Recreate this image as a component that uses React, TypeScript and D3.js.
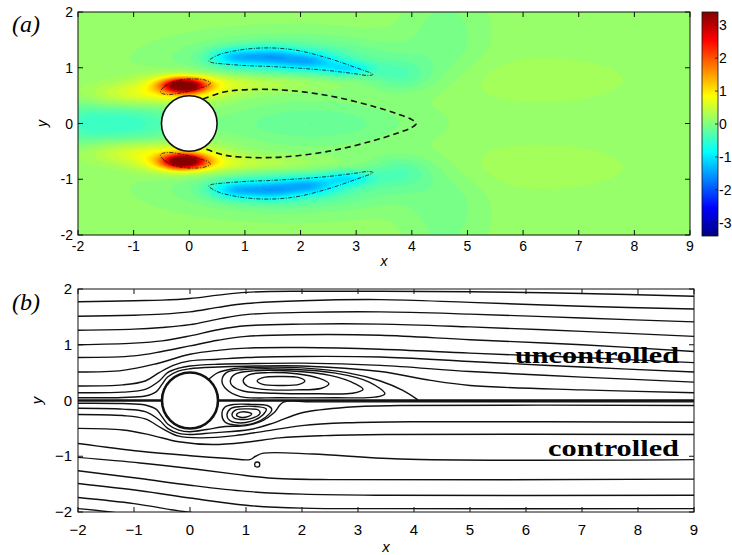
import React, { useMemo } from 'react'
import * as d3 from 'd3'

// axis ticks
const xTicks = [-2, -1, 0, 1, 2, 3, 4, 5, 6, 7, 8, 9]
const yTicks = [-2, -1, 0, 1, 2]
const cbarTicks = [-3, -2, -1, 0, 1, 2, 3]
const cbarRange = [-3.4, 3.4]

// jet colormap
const jetPos = [0, 0.125, 0.375, 0.625, 0.875, 1]
const jetColors = ['#000080', '#0000ff', '#00ffff', '#ffff00', '#ff0000', '#800000']

// field of panel (a): background level + blobs [x, y, sx, sy, amplitude]
// blobs with y != 0 are mirrored about y = 0
const fieldBase = 0.15
const fieldBlobs = [
  [-0.1, 0.68, 0.26, 0.085, 3.2],
  [-0.1, 0.64, 0.55, 0.17, 0.9],
  [-1.1, 0.5, 0.6, 0.15, 0.45],
  [1.2, 0.73, 1.0, 0.12, 0.45],
  [0.8, 1.19, 0.3, 0.11, -0.85],
  [1.45, 1.2, 0.35, 0.12, -0.95],
  [2.15, 1.12, 0.35, 0.11, -0.9],
  [2.85, 0.98, 0.3, 0.09, -0.75],
  [1.8, 1.12, 1.3, 0.3, -0.6],
  [3.8, 0.85, 0.4, 0.2, -0.35],
  [2.2, 0, 1.2, 0.28, -0.35],
  [-1.1, 0, 0.7, 0.3, -0.6],
  [-2, 0, 0.4, 0.3, -0.3],
  [6.2, 0.78, 1.2, 0.3, 0.12],
  [4.6, 1.6, 0.5, 0.6, -0.2],
]

// contour lines of panel (a), upper half (lower is mirrored)
const redContour = [
  [-0.52, 0.56], [-0.45, 0.66], [-0.3, 0.74], [-0.1, 0.79], [0.1, 0.8], [0.28, 0.78],
  [0.38, 0.73], [0.33, 0.68], [0.2, 0.64], [0.0, 0.58], [-0.2, 0.54], [-0.4, 0.52],
]
const blueContour = [
  [0.35, 1.12], [0.5, 1.22], [0.8, 1.3], [1.2, 1.35], [1.6, 1.35], [2.0, 1.3], [2.5, 1.17],
  [3.0, 1.0], [3.3, 0.88], [3.22, 0.86], [3.0, 0.89], [2.5, 0.95], [2.0, 0.99], [1.5, 1.02],
  [1.0, 1.04], [0.6, 1.07], [0.42, 1.09],
]
const bubbleDashed = [
  [0.25, 0.44], [0.6, 0.56], [0.9, 0.6], [1.5, 0.61], [2.1, 0.56], [2.7, 0.46],
  [3.3, 0.31], [3.75, 0.17], [4.0, 0.07], [4.08, 0],
]

// panel (b) streamlines, uncontrolled half (y > 0)
const upperLines = [
  [[-2, 1.77], [-1, 1.79], [-0.5, 1.8], [0, 1.83], [0.5, 1.89], [1, 1.94], [2, 1.96], [3.4, 1.96], [5, 1.95], [7, 1.92], [9, 1.87]],
  [[-2, 1.51], [-1, 1.53], [-0.5, 1.55], [0, 1.59], [0.5, 1.67], [1, 1.74], [2, 1.79], [3.4, 1.81], [5, 1.76], [7, 1.69], [9, 1.64]],
  [[-2, 1.26], [-1, 1.28], [-0.5, 1.31], [0, 1.36], [0.5, 1.46], [1, 1.54], [2, 1.58], [3.4, 1.59], [5, 1.55], [7, 1.48], [9, 1.41]],
  [[-2, 1.0], [-1, 1.03], [-0.5, 1.07], [0, 1.16], [0.5, 1.27], [1, 1.34], [2, 1.37], [3.4, 1.37], [5, 1.32], [7, 1.24], [9, 1.15]],
  [[-2, 0.77], [-1, 0.8], [-0.5, 0.88], [0, 0.98], [0.5, 1.08], [1, 1.15], [2, 1.18], [3.4, 1.17], [5, 1.09], [7, 1.0], [9, 0.88]],
  [[-2, 0.51], [-1.2, 0.54], [-0.6, 0.66], [0, 0.83], [0.5, 0.9], [1, 0.94], [2, 0.95], [3.4, 0.92], [5, 0.85], [7, 0.77], [9, 0.68]],
  [[-2, 0.26], [-1.2, 0.28], [-0.8, 0.35], [-0.55, 0.5], [-0.3, 0.63], [0, 0.71], [0.5, 0.74], [1, 0.77], [2, 0.79], [3.4, 0.78], [5, 0.7], [7, 0.6], [9, 0.51]],
  [[-2, 0.14], [-1.2, 0.15], [-0.8, 0.2], [-0.55, 0.35], [-0.4, 0.5], [-0.2, 0.58], [0, 0.62], [0.5, 0.65], [1, 0.66], [2, 0.67], [3.4, 0.63], [5, 0.52], [7, 0.42], [9, 0.33]],
  [[-2, 0.05], [-1.2, 0.055], [-0.8, 0.08], [-0.6, 0.16], [-0.5, 0.29], [-0.4, 0.42], [-0.2, 0.53], [0, 0.57], [0.5, 0.6], [1, 0.615], [2, 0.62], [3.4, 0.52], [4.3, 0.36], [5, 0.27], [7, 0.19], [9, 0.14]],
]
const upperSeparatrix = [[0.33, 0.375], [0.5, 0.5], [0.8, 0.575], [1.2, 0.595], [2, 0.585], [2.8, 0.5], [3.4, 0.35], [3.8, 0.18], [4.07, 0.01]]
const upperLoops = [
  [[1.2, 0.35], [1.3, 0.41], [1.62, 0.43], [1.95, 0.41], [2.05, 0.35], [1.95, 0.29], [1.62, 0.27], [1.3, 0.29]],
  [[0.95, 0.36], [1.05, 0.46], [1.4, 0.5], [1.9, 0.48], [2.3, 0.4], [2.48, 0.3], [2.35, 0.22], [1.9, 0.19], [1.3, 0.2], [1.02, 0.26]],
  [[0.72, 0.35], [0.8, 0.47], [1.1, 0.53], [1.8, 0.53], [2.5, 0.45], [2.95, 0.3], [3.09, 0.2], [2.9, 0.13], [2.3, 0.12], [1.5, 0.13], [0.95, 0.17], [0.76, 0.26]],
  [[0.57, 0.35], [0.65, 0.5], [0.95, 0.555], [1.8, 0.56], [2.6, 0.49], [3.2, 0.33], [3.48, 0.12], [3.3, 0.06], [2.6, 0.05], [1.6, 0.05], [0.9, 0.07], [0.65, 0.2]],
]

// panel (b) streamlines, controlled half (y < 0)
const lowerLines = [
  [[-2, -0.05], [-1.2, -0.055], [-0.8, -0.08], [-0.6, -0.16], [-0.5, -0.29], [-0.4, -0.42], [-0.2, -0.53], [0, -0.56], [0.3, -0.52], [0.6, -0.47], [1.0, -0.45], [1.3, -0.36], [1.5, -0.22], [1.67, -0.03], [2.2, -0.025], [9, -0.025]],
  [[-2, -0.14], [-1.2, -0.155], [-0.8, -0.2], [-0.55, -0.35], [-0.4, -0.5], [-0.2, -0.59], [0, -0.61], [0.4, -0.58], [1.07, -0.52], [1.5, -0.4], [2, -0.22], [2.8, -0.12], [3.75, -0.09], [9, -0.09]],
  [[-2, -0.25], [-1.2, -0.27], [-0.8, -0.33], [-0.5, -0.5], [-0.2, -0.64], [0.2, -0.67], [0.8, -0.63], [1.4, -0.54], [2, -0.45], [2.8, -0.4], [4, -0.38], [9, -0.39]],
  [[-2, -0.5], [-1.2, -0.53], [-0.7, -0.62], [-0.2, -0.74], [0.4, -0.79], [1, -0.75], [1.6, -0.67], [2.4, -0.63], [3.5, -0.61], [9, -0.61]],
  [[-2, -0.77], [-0.89, -0.91], [0, -0.99], [0.7, -1.04], [1.07, -1.06], [1.17, -1.0], [1.31, -0.945], [2.2, -0.96], [3.75, -1.05], [9, -1.06]],
  [[-2, -1.02], [-0.89, -1.12], [0, -1.22], [0.8, -1.32], [1.4, -1.39], [2.5, -1.42], [9, -1.41]],
  [[-2, -1.26], [-0.89, -1.4], [0, -1.52], [1, -1.63], [2, -1.68], [3.5, -1.7], [9, -1.7]],
  [[-2, -1.49], [-0.89, -1.62], [0, -1.75], [1, -1.88], [2, -1.93], [3.5, -1.94], [9, -1.94]],
  [[-2, -1.74], [-1, -1.85], [-0.2, -1.98], [0.2, -2.03]],
  [[-2, -1.94], [-1.5, -1.99], [-1.2, -2.03]],
]
const lowerLoops = [
  [[0.57, -0.25], [0.62, -0.12], [0.8, -0.07], [1.1, -0.07], [1.38, -0.09], [1.46, -0.16], [1.35, -0.3], [1.1, -0.42], [0.8, -0.44], [0.62, -0.38]],
  [[0.66, -0.26], [0.72, -0.15], [0.9, -0.11], [1.2, -0.11], [1.36, -0.15], [1.3, -0.26], [1.1, -0.37], [0.85, -0.4], [0.7, -0.35]],
  [[0.75, -0.25], [0.82, -0.17], [1.0, -0.15], [1.22, -0.17], [1.25, -0.23], [1.1, -0.32], [0.9, -0.34], [0.78, -0.31]],
  [[0.83, -0.26], [0.9, -0.21], [1.03, -0.21], [1.1, -0.24], [1.03, -0.29], [0.9, -0.3]],
]
const actuator = [1.2, -1.15]
const centerSegments = [[-2, -0.5], [0.5, 9]]

const mirror = (pts: number[][]) => pts.map(([x, y]) => [x, -y])

const sans = '"Liberation Sans", Arial, Helvetica, sans-serif'
const serif = '"Liberation Serif", "Times New Roman", serif'

function Frame({ x, y, minus, fs, xLabY, yLabX }: any) {
  const [x0, x1] = x.range()
  const [y0, y1] = y.range()
  const fmt = (v: number) => (v < 0 ? (minus ? '\u2212' : '-') + Math.abs(v) : String(v))
  return (
    <g>
      <rect x={x0} y={y1} width={x1 - x0} height={y0 - y1} fill="none" stroke="#111" strokeWidth={1} />
      {xTicks.map(t => (
        <g key={'x' + t}>
          <line x1={x(t)} x2={x(t)} y1={y0} y2={y0 - 5} stroke="#111" />
          <line x1={x(t)} x2={x(t)} y1={y1} y2={y1 + 5} stroke="#111" />
          <text x={x(t)} y={xLabY} textAnchor="middle" fontSize={fs} fontFamily={sans}>{fmt(t)}</text>
        </g>
      ))}
      {yTicks.map(t => (
        <g key={'y' + t}>
          <line x1={x0} x2={x0 + 5} y1={y(t)} y2={y(t)} stroke="#111" />
          <line x1={x1} x2={x1 - 5} y1={y(t)} y2={y(t)} stroke="#111" />
          <text x={yLabX} y={y(t) + 5} textAnchor="end" fontSize={fs} fontFamily={sans}>{fmt(t)}</text>
        </g>
      ))}
    </g>
  )
}

export default function App() {
  const xA = d3.scaleLinear().domain([-2, 9]).range([78, 690])
  const yA = d3.scaleLinear().domain([-2, 2]).range([235, 12])
  const xB = d3.scaleLinear().domain([-2, 9]).range([78, 694])
  const yB = d3.scaleLinear().domain([-2, 2]).range([512, 289])
  const cbY = d3.scaleLinear().domain(cbarRange).range([236, 12])
  const span = cbarRange[1] - cbarRange[0]
  const jet = d3.scaleLinear<string>()
    .domain(jetPos.map(t => cbarRange[0] + t * span))
    .range(jetColors)
    .clamp(true)

  const bands = useMemo(() => {
    const W = 275, H = 100
    const blobs = fieldBlobs.flatMap(b => (b[1] === 0 ? [b] : [b, [b[0], -b[1], b[2], b[3], b[4]]]))
    const vals = new Float64Array(W * H)
    for (let j = 0; j < H; j++) {
      const yy = 2 - ((j + 0.5) * 4) / H
      for (let i = 0; i < W; i++) {
        const xx = -2 + ((i + 0.5) * 11) / W
        let v = fieldBase
        for (const [cx, cy, sx, sy, a] of blobs) {
          const dx = (xx - cx) / sx, dy = (yy - cy) / sy
          v += a * Math.exp(-0.5 * (dx * dx + dy * dy))
        }
        vals[j * W + i] = v
      }
    }
    const thr = d3.range(cbarRange[0], cbarRange[1], 0.1)
    const contours = d3.contours().size([W, H]).thresholds(thr)(Array.from(vals))
    const cw = (xA(9) - xA(-2)) / W, ch = (yA(-2) - yA(2)) / H
    const ox = xA(-2), oy = yA(2)
    const proj = d3.geoTransform({
      point(px: number, py: number) { (this as any).stream.point(ox + px * cw, oy + py * ch) },
    })
    const path = d3.geoPath(proj as any)
    return contours.map(c => ({ d: path(c as any) || '', fill: jet(c.value + 0.05) }))
  }, [])

  const lineA = d3.line<number[]>().x(d => xA(d[0])).y(d => yA(d[1])).curve(d3.curveCatmullRom.alpha(0.5))
  const loopA = d3.line<number[]>().x(d => xA(d[0])).y(d => yA(d[1])).curve(d3.curveCatmullRomClosed.alpha(0.5))
  const lineB = d3.line<number[]>().x(d => xB(d[0])).y(d => yB(d[1])).curve(d3.curveCatmullRom.alpha(0.5))
  const loopB = d3.line<number[]>().x(d => xB(d[0])).y(d => yB(d[1])).curve(d3.curveCatmullRomClosed.alpha(0.5))

  const dashedFull = bubbleDashed.concat(mirror(bubbleDashed).reverse().slice(1))
  const contoursA = [redContour, mirror(redContour), blueContour, mirror(blueContour)]

  return (
    <svg width={732} height={555} style={{ position: 'absolute', left: 0, top: 0, background: '#fff' }}>
      <defs>
        <clipPath id="clipA"><rect x={xA(-2)} y={yA(2)} width={xA(9) - xA(-2)} height={yA(-2) - yA(2)} /></clipPath>
        <clipPath id="clipB"><rect x={xB(-2)} y={yB(2)} width={xB(9) - xB(-2)} height={yB(-2) - yB(2)} /></clipPath>
        <linearGradient id="jetGrad" x1="0" y1="1" x2="0" y2="0">
          {jetPos.map((p, i) => <stop key={i} offset={p} stopColor={jetColors[i]} />)}
        </linearGradient>
      </defs>

      {/* panel (a) */}
      <g clipPath="url(#clipA)">
        {bands.map((b, i) => <path key={i} d={b.d} fill={b.fill} stroke={b.fill} strokeWidth={0.3} />)}
        {contoursA.map((c, i) => (
          <path key={i} d={loopA(c) || ''} fill="none" stroke="#111" strokeWidth={0.8} strokeDasharray="4,1.5,1,1.5" />
        ))}
        <path d={lineA(dashedFull) || ''} fill="none" stroke="#111" strokeWidth={1.6} strokeDasharray="6,4" />
        <circle cx={xA(0)} cy={yA(0)} r={xA(0.5) - xA(0)} fill="#fff" stroke="#111" strokeWidth={1.6} />
      </g>
      <Frame x={xA} y={yA} minus={false} fs={14} xLabY={251} yLabX={73} />
      <text x={xA(3.5)} y={266} textAnchor="middle" fontSize={14} fontStyle="italic" fontFamily={sans}>x</text>
      <text transform={`translate(47,${yA(0)}) rotate(-90)`} textAnchor="middle" fontSize={14} fontStyle="italic" fontFamily={sans}>y</text>
      <text x={12} y={32} fontSize={24} fontStyle="italic" fontFamily={serif}>(a)</text>

      {/* colorbar */}
      <rect x={702} y={cbY(cbarRange[1])} width={16} height={cbY(cbarRange[0]) - cbY(cbarRange[1])} fill="url(#jetGrad)" stroke="#111" strokeWidth={0.8} />
      {cbarTicks.map(t => (
        <g key={t}>
          <line x1={715} x2={718} y1={cbY(t)} y2={cbY(t)} stroke="#111" strokeWidth={0.8} />
          <text x={719} y={cbY(t) + 5} fontSize={14} fontFamily={sans}>{t}</text>
        </g>
      ))}

      {/* panel (b) */}
      <g clipPath="url(#clipB)" fill="none" stroke="#111">
        {upperLines.map((l, i) => <path key={'u' + i} d={lineB(l) || ''} strokeWidth={1.4} />)}
        <path d={lineB(upperSeparatrix) || ''} strokeWidth={1.4} />
        {upperLoops.map((l, i) => <path key={'ul' + i} d={loopB(l) || ''} strokeWidth={1.4} />)}
        {lowerLines.map((l, i) => <path key={'d' + i} d={lineB(l) || ''} strokeWidth={1.4} />)}
        {lowerLoops.map((l, i) => <path key={'dl' + i} d={loopB(l) || ''} strokeWidth={1.4} />)}
        {centerSegments.map((s, i) => (
          <line key={'c' + i} x1={xB(s[0])} x2={xB(s[1])} y1={yB(0)} y2={yB(0)} strokeWidth={2.6} />
        ))}
        <circle cx={xB(actuator[0])} cy={yB(actuator[1])} r={2.6} strokeWidth={1.3} fill="#fff" />
        <circle cx={xB(0)} cy={yB(0)} r={xB(0.5) - xB(0)} fill="#fff" strokeWidth={2.6} />
      </g>
      <Frame x={xB} y={yB} minus={true} fs={15} xLabY={535} yLabX={72} />
      <text x={xB(3.5)} y={552} textAnchor="middle" fontSize={15} fontStyle="italic" fontFamily={sans}>x</text>
      <text transform={`translate(42,${yB(0)}) rotate(-90)`} textAnchor="middle" fontSize={15} fontStyle="italic" fontFamily={sans}>y</text>
      <text x={12} y={310} fontSize={24} fontStyle="italic" fontFamily={serif}>(b)</text>
      <text x={515} y={363} fontSize={23} fontWeight="bold" fontFamily={serif} textLength={164} lengthAdjust="spacingAndGlyphs">uncontrolled</text>
      <text x={548} y={456} fontSize={23} fontWeight="bold" fontFamily={serif} textLength={131} lengthAdjust="spacingAndGlyphs">controlled</text>
    </svg>
  )
}
